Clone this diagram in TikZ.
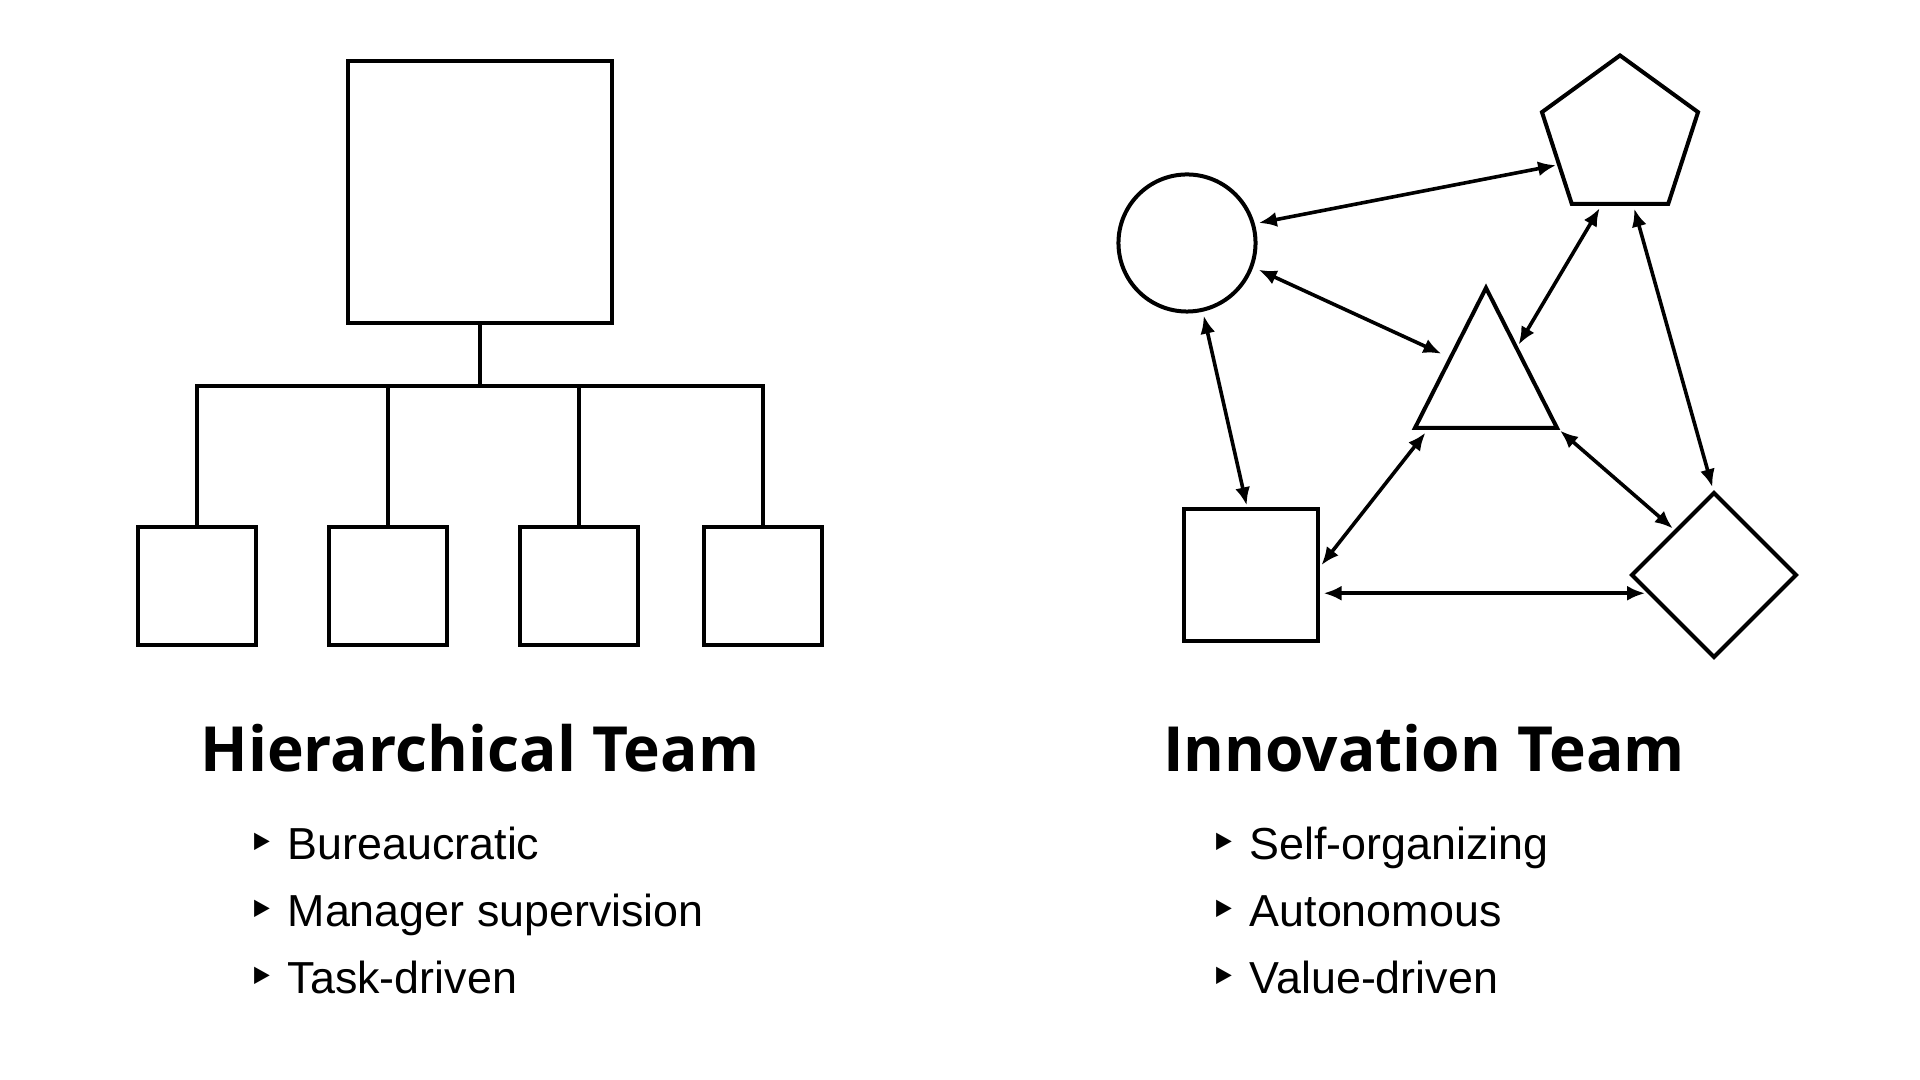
\documentclass[tikz,border=0pt]{standalone}
\usepackage{fontspec}
\setmainfont{Liberation Sans}
\newfontfamily\headfont{Open Sans}
\newfontfamily\symfont{DejaVu Sans}
\usepackage{tikz}
\usetikzlibrary{positioning, arrows.meta, shapes.geometric, calc}

\begin{document}
\begin{tikzpicture}[
    x=0.01cm, y=-0.01cm,
    shape_box/.style = {draw, line width=0.04cm, inner sep=0pt, outer sep=0pt},
    boss_box/.style = {shape_box, rectangle, minimum width=2.63cm, minimum height=2.62cm},
    worker_box/.style = {shape_box, rectangle, minimum width=1.18cm, minimum height=1.17cm},
    tree_line/.style = {line width=0.04cm},
    link/.style = {arrows={Latex[length=0.18cm, width=0.15cm]-Latex[length=0.18cm, width=0.15cm]}, line width=0.036cm},
    title_text/.style = {anchor=base, inner sep=0pt, font=\headfont\bfseries\fontsize{17.7pt}{21pt}\selectfont},
    item_text/.style = {anchor=base west, inner sep=0pt, font=\fontsize{12.75pt}{15pt}\selectfont},
    item_mark/.style = {anchor=base east, inner sep=0pt, font=\symfont\fontsize{13.5pt}{15pt}\selectfont}
]
\useasboundingbox (0,0) rectangle (1920,1080);

% --- Hierarchical team ---
\node[boss_box] (boss) at (480,192) {};
\foreach \i/\x in {1/197, 2/388, 3/579, 4/763}
    \node[worker_box] (w\i) at (\x,586) {};
\coordinate (bus) at (480,386.5);

\draw[tree_line] (boss.south) -- (bus);
\draw[tree_line] (w1.north) |- (bus) -| (w4.north);
\draw[tree_line] (w2.north) -- (w2.north |- bus);
\draw[tree_line] (w3.north) -- (w3.north |- bus);

% --- Innovation team ---
\node[shape_box, circle, minimum size=1.37cm] (circ) at (1187,243) {};
\node[shape_box, regular polygon, regular polygon sides=5, minimum size=1.64cm] (pent) at (1620,137.5) {};
\node[shape_box, isosceles triangle, shape border rotate=90, isosceles triangle stretches,
      minimum width=1.42cm, minimum height=1.40cm, anchor=lower side] (tri) at (1486,428) {};
\node[shape_box, rectangle, minimum width=1.34cm, minimum height=1.32cm] (sq) at (1251,575.3) {};
\node[shape_box, diamond, minimum size=1.64cm] (dia) at (1714,575) {};

% two-way links
\draw[link, shorten <=0.06cm, shorten >=0.03cm] (circ.16.4) -- (pent.204.6);
\draw[link, shorten <=0.08cm, shorten >=0.10cm] (circ.340.3) -- ($(tri.apex)!0.5!(tri.left corner)$);
\draw[link, shorten <=0.06cm, shorten >=0.04cm] (circ.283.9) -- (sq.93.7);
\draw[link, shorten <=0.04cm, shorten >=0.05cm] ($(tri.apex)!0.43!(tri.right corner)$) -- (pent.255.5);
\draw[link, shorten <=0.05cm, shorten >=0.06cm] (pent.281.4) -- (dia.north);
\draw[link, shorten <=0.06cm, shorten >=0.055cm] ($(tri.left corner)!0.1!(tri.right corner)$) -- (sq.5.7);
\draw[link, shorten <=0.04cm, shorten >=0.04cm] (tri.right corner) -- (dia.131.7);
\draw[link, shorten <=0.055cm, shorten >=0.06cm] (sq.345.2) -- (sq.345.2 -| dia.197.3);

% --- Titles and lists ---
\node[title_text] (h_title) at (480,772) {Hierarchical Team};
\node[title_text] (i_title) at (1424,772) {Innovation Team};

\foreach \txt [count=\i] in {Bureaucratic, Manager supervision, Task-driven} {
    \node[item_text] (h_item\i) at (287,{793+67*\i}) {\txt};
    \node[item_mark] (h_mark\i) at ([xshift=-0.11cm]h_item\i.base west) {‣};
}
\foreach \txt [count=\i] in {Self-organizing, Autonomous, Value-driven} {
    \node[item_text] (i_item\i) at (1249,{793+67*\i}) {\txt};
    \node[item_mark] (i_mark\i) at ([xshift=-0.11cm]i_item\i.base west) {‣};
}
\end{tikzpicture}
\end{document}
